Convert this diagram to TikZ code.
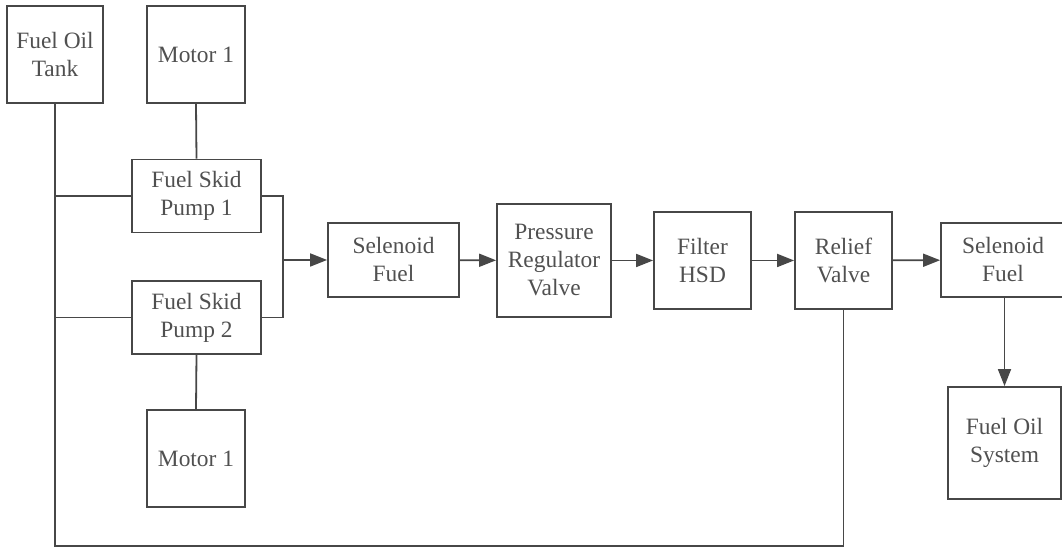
\documentclass[tikz,border=0pt]{standalone}
\usepackage{fontspec}
\setmainfont{Liberation Serif}
\usepackage{tikz}
\usetikzlibrary{arrows.meta,positioning,calc}

\definecolor{linegray}{HTML}{474747}
\definecolor{textgray}{HTML}{505050}

\tikzset{
    blok/.style={draw=linegray,line width=0.9pt,align=center,inner sep=0pt,
        text=textgray,font=\fontsize{11.7}{14}\selectfont},
    pipe/.style={draw=linegray,line width=0.9pt}
}

\begin{document}
\begin{tikzpicture}[>={Triangle[length=8.5pt,width=6.5pt]},x=0.5pt,y=-0.5pt]
    \useasboundingbox (0,0) rectangle (1062,549);

    % Tank and pumps
    \node[blok,minimum width=48pt,minimum height=48.5pt] (tank) at (55,54.5) {Fuel Oil\\Tank};
    \node[blok,minimum width=49pt,minimum height=48.5pt] (motorA) at (196,54.5) {Motor 1};
    \node[blok,minimum width=64.5pt,minimum height=36.5pt] (pumpA) at (196.5,196) {Fuel Skid\\Pump 1};
    \node[blok,minimum width=64.5pt,minimum height=36.5pt] (pumpB) at (196.5,317.5) {Fuel Skid\\Pump 2};
    \node[blok,minimum width=49pt,minimum height=48.5pt] (motorB) at (196,458.5) {Motor 1};

    % Main line
    \node[blok,minimum width=65.5pt,minimum height=37pt] (selA) at (393.5,260) {Selenoid\\Fuel};
    \node[blok,minimum width=57pt,minimum height=56.5pt] (regulator) at (554,260.5) {Pressure\\Regulator\\Valve};
    \node[blok,minimum width=48.5pt,minimum height=48.5pt] (filter) at (702.5,260.5) {Filter\\HSD};
    \node[blok,minimum width=48.5pt,minimum height=48.5pt] (relief) at (843.5,260.5) {Relief\\Valve};
    \node[blok,minimum width=62pt,minimum height=37pt] (selB) at (1003,260) {Selenoid\\Fuel};
    \node[blok,minimum width=56.5pt,minimum height=56pt] (system) at (1004.5,443) {Fuel Oil\\System};

    % Connections
    \coordinate (bottom) at (55,546);
    \coordinate (join) at (283,260);
    \draw[pipe] (tank.south) -- (bottom) -| (relief.south);
    \draw[pipe] (pumpA.west) -- (tank.south |- pumpA.west);
    \draw[pipe] (pumpB.west) -- (tank.south |- pumpB.west);
    \draw[pipe] (motorA.south) -- (pumpA.north);
    \draw[pipe] (motorB.north) -- (pumpB.south);
    \draw[pipe] (pumpA.east) -| (join);
    \draw[pipe] (pumpB.east) -| (join);

    \draw[pipe,->] (join) -- (selA.west);
    \draw[pipe,->] (selA) -- (regulator);
    \draw[pipe,->] (regulator) -- (filter);
    \draw[pipe,->] (filter) -- (relief);
    \draw[pipe,->] (relief) -- (selB);
    \draw[pipe,->] (system.north |- selB.south) -- (system.north);
\end{tikzpicture}
\end{document}
